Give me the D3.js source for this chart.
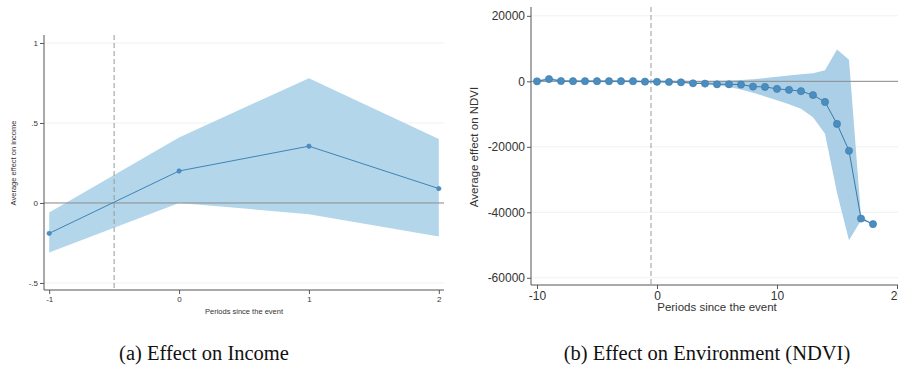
<!DOCTYPE html>
<html>
  <head>
    <meta http-equiv="Content-Type" content="text/html;charset=utf-8">
    <title>Event study: income and NDVI</title>
    <script type="text/javascript" src="https://d3js.org/d3.v7.min.js"></script>
    <style>
	    html, body {
		    margin: 0;
		    padding: 0;
		    background: #fff;
	    }
	    text {
		    font-family: "Liberation Sans", Arial, sans-serif;
		    fill: #333;
	    }
	    .caption {
		    font-family: "Liberation Serif", "DejaVu Serif", serif;
		    font-size: 20.5px;
		    fill: #111;
	    }
	    .axis path, .axis line {
		    fill: none;
		    stroke: #555;
	    }
    </style>
  </head>
  <body>
	<script type="text/javascript">

// panel (a): effect on income
var incPeriods = [-1, 0, 1, 2];
var incEffect  = [-0.19, 0.20, 0.355, 0.09];
var incLower   = [-0.31, 0.00, -0.07, -0.21];
var incUpper   = [-0.06, 0.41, 0.78, 0.40];
var incYTicks  = [-0.5, 0, 0.5, 1];
var incYLabels = ["-.5", "0", ".5", "1"];
var incXTicks  = [-1, 0, 1, 2];

// panel (b): effect on NDVI
var ndviPeriods = [-10, -9, -8, -7, -6, -5, -4, -3, -2, -1, 0, 1, 2, 3, 4, 5, 6, 7, 8, 9, 10, 11, 12, 13, 14, 15, 16, 17, 18];
var ndviEffect  = [0, 700, 100, 50, 50, 50, 50, 50, 50, -100, -150, -200, -300, -600, -700, -900, -900, -1000, -1600, -1700, -2300, -2600, -3000, -4200, -6300, -13000, -21200, -41900, -43600];
var ndviLower   = [-300, 200, -200, -250, -250, -250, -250, -250, -250, -400, -300, -400, -500, -700, -900, -1200, -1700, -2500, -3500, -4600, -5800, -7000, -8400, -11000, -16000, -34000, -48500, -42500, -43600];
var ndviUpper   = [300, 1200, 400, 350, 350, 350, 350, 350, 350, 200, 300, 200, 200, 100, 100, 150, 250, 400, 600, 1000, 1400, 1800, 2200, 2500, 3400, 9700, 6600, -41200, -43600];
var ndviYTicks  = [20000, 0, -20000, -40000, -60000];
var ndviXTicks  = [-10, 0, 10, 20];

var captions = ["(a) Effect on Income", "(b) Effect on Environment (NDVI)"];

var svg = d3.select("body").append("svg").attr("width", 898).attr("height", 375);

function panel(o) {
	var x = d3.scaleLinear().domain(o.xDomain).range(o.xRange);
	var y = d3.scaleLinear().domain(o.yDomain).range(o.yRange);
	var g = svg.append("g");
	var rows = o.periods.map(function(p, i) {
		return { p: p, v: o.effect[i], lo: o.lower[i], hi: o.upper[i] };
	});

	// gridlines
	g.selectAll(".grid").data(o.yTicks).enter().append("line")
		.attr("x1", o.xRange[0]).attr("x2", o.xRange[1])
		.attr("y1", function(d){ return y(d); }).attr("y2", function(d){ return y(d); })
		.attr("stroke", "#f1f1f1").attr("stroke-width", 1);

	var area = d3.area()
		.x(function(d){ return x(d.p); })
		.y0(function(d){ return y(d.lo); })
		.y1(function(d){ return y(d.hi); });
	g.append("path").attr("d", area(rows)).attr("fill", o.band);

	// zero line and event line
	g.append("line").attr("x1", o.xRange[0]).attr("x2", o.xRange[1])
		.attr("y1", y(0)).attr("y2", y(0))
		.attr("stroke", "#8c8c8c").attr("stroke-width", 1);
	g.append("line").attr("x1", x(-0.5)).attr("x2", x(-0.5))
		.attr("y1", o.yRange[1]).attr("y2", o.yRange[0])
		.attr("stroke", "#999").attr("stroke-width", 1).attr("stroke-dasharray", "5,3");

	var line = d3.line()
		.x(function(d){ return x(d.p); })
		.y(function(d){ return y(d.v); });
	g.append("path").attr("d", line(rows)).attr("fill", "none")
		.attr("stroke", o.lineColor).attr("stroke-width", o.lineWidth);

	g.selectAll(".pt").data(rows).enter().append("circle")
		.attr("cx", function(d){ return x(d.p); })
		.attr("cy", function(d){ return y(d.v); })
		.attr("r", o.r)
		.attr("fill", o.dotColor).attr("stroke", o.lineColor).attr("stroke-width", 0.6);

	var yAxis = d3.axisLeft(y).tickValues(o.yTicks).tickSize(4).tickPadding(2)
		.tickFormat(function(d){ return o.yLabels ? o.yLabels[o.yTicks.indexOf(d)] : d; });
	var ya = g.append("g").attr("class", "axis")
		.attr("transform", "translate(" + o.xRange[0] + ",0)").call(yAxis);
	ya.select(".domain").attr("d", "M0," + o.yRange[0] + "V" + o.yRange[1]);
	ya.selectAll("text").style("font-size", o.tickFont + "px").attr("fill", "#333");

	var xAxis = d3.axisBottom(x).tickValues(o.xTicks).tickSize(4).tickPadding(2)
		.tickFormat(function(d){ return String(d); });
	var xa = g.append("g").attr("class", "axis")
		.attr("transform", "translate(0," + o.yRange[0] + ")").call(xAxis);
	xa.select(".domain").attr("d", "M" + o.xRange[0] + ",0H" + o.xRange[1]);
	xa.selectAll("text").style("font-size", o.tickFont + "px").attr("fill", "#333");

	g.append("text").attr("x", (x(o.xTicks[0]) + x(o.xTicks[o.xTicks.length - 1])) / 2)
		.attr("y", o.xTitleY).attr("text-anchor", "middle")
		.style("font-size", o.titleFont + "px").text("Periods since the event");
	g.append("text").attr("transform", "translate(" + o.yTitleX + "," + o.yTitleY + ") rotate(-90)")
		.attr("text-anchor", "middle").style("font-size", o.titleFont + "px").text(o.yTitle);
}

panel({
	periods: incPeriods, effect: incEffect, lower: incLower, upper: incUpper,
	xDomain: [-1.04, 2.04], xRange: [44, 444],
	yDomain: [-0.544, 1.05], yRange: [290, 35],
	yTicks: incYTicks, yLabels: incYLabels, xTicks: incXTicks,
	band: "#b3d6eb", lineColor: "#3f84b6", dotColor: "#4a8fc2", lineWidth: 1, r: 2.2,
	tickFont: 8, titleFont: 7.5, xTitleY: 314, yTitleX: 16, yTitleY: 163,
	yTitle: "Average effect on income"
});

panel({
	periods: ndviPeriods, effect: ndviEffect, lower: ndviLower, upper: ndviUpper,
	xDomain: [-10.5, 20.25], xRange: [531, 900],
	yDomain: [-62200, 22700], yRange: [285, 7],
	yTicks: ndviYTicks, yLabels: null, xTicks: ndviXTicks,
	band: "#abcfe6", lineColor: "#3a7aaa", dotColor: "#4b8dbf", lineWidth: 1, r: 3.6,
	tickFont: 12, titleFont: 11.5, xTitleY: 311, yTitleX: 478, yTitleY: 147,
	yTitle: "Average effect on NDVI"
});

svg.selectAll(".caption").data(captions).enter().append("text")
	.attr("class", "caption")
	.attr("x", function(d, i){ return i === 0 ? 204 : 707; })
	.attr("y", 360).attr("text-anchor", "middle")
	.text(function(d){ return d; });

	</script>
  </body>
</html>
